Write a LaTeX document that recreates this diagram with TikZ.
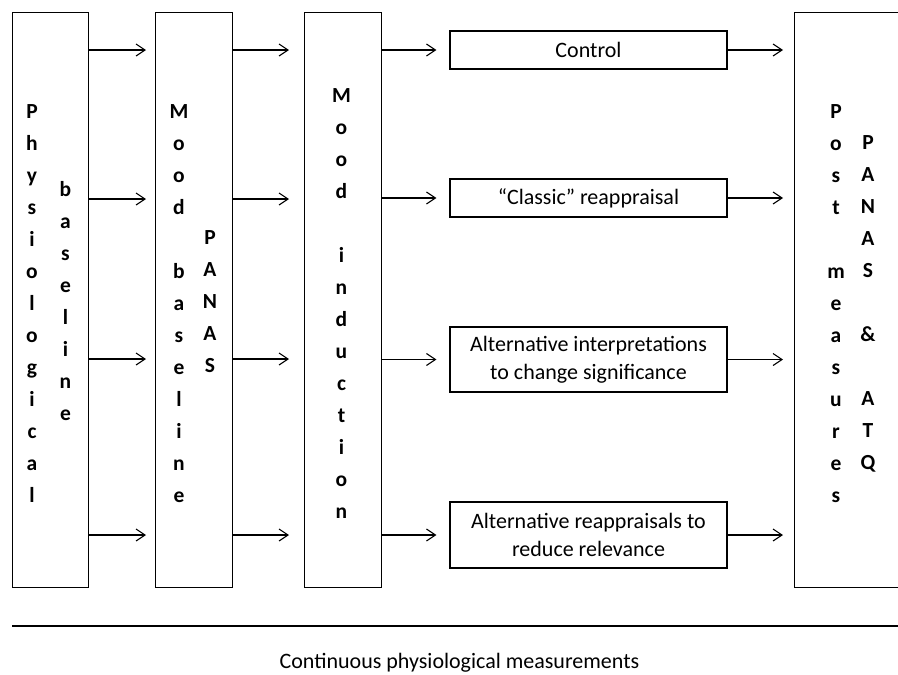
\documentclass[tikz,border=0pt]{standalone}
\usepackage{fontspec}
\setmainfont{Carlito}
\usetikzlibrary{arrows.meta}

\begin{document}
\begin{tikzpicture}[x=1pt, y=-1pt, line width=1.1pt,
  stage/.style={draw, line width=1.1pt, minimum height=575pt, inner sep=0pt, anchor=north west},
  vletters/.style={font=\bfseries\fontsize{21.5}{32}\selectfont, align=center, inner sep=0pt, anchor=north},
  option/.style={draw, line width=1.1pt, minimum width=277pt, inner sep=0pt,
                 font=\fontsize{22}{28}\selectfont, align=center},
  arr/.style={-{Straight Barb[length=9pt,width=12pt]}, line width=1.1pt}]
\useasboundingbox (0,0) rectangle (898,675);
\clip (0,0) rectangle (898,675);

% stage columns
\node[stage, minimum width=76pt]  (phys) at (12,12)  {};
\node[stage, minimum width=77pt]  (mood) at (155,12) {};
\node[stage, minimum width=77pt]  (ind)  at (304,12) {};
\node[stage, minimum width=150pt] (post) at (794,12) {};

% vertical lettering
\node[vletters] (physA) at (32,104.5)  {P\\h\\y\\s\\i\\o\\l\\o\\g\\i\\c\\a\\l};
\node[vletters] (physB) at (65.5,180.5) {b\\a\\s\\e\\l\\i\\n\\e};
\node[vletters] (moodA) at (179,104.5) {M\\o\\o\\d\\~\\b\\a\\s\\e\\l\\i\\n\\e};
\node[vletters] (moodB) at (210,230.5) {P\\A\\N\\A\\S};
\node[vletters] (indA)  at (341.5,88.5) {M\\o\\o\\d\\~\\i\\n\\d\\u\\c\\t\\i\\o\\n};
\node[vletters] (postA) at (836,104.5) {P\\o\\s\\t\\~\\m\\e\\a\\s\\u\\r\\e\\s};
\node[vletters] (postB) at (868,135.5) {P\\A\\N\\A\\S\\~\\\&\\~\\A\\T\\Q};

% regulation conditions
\node[option, minimum height=38pt] (ctrl) at (588.5,50)    {Control};
\node[option, minimum height=38pt] (clas) at (588.5,198)   {“Classic” reappraisal};
\node[option, minimum height=65pt] (alti) at (588.5,359.5) {Alternative interpretations\\to change significance};
\node[option, minimum height=66pt] (altr) at (588.5,535)   {Alternative reappraisals to\\reduce relevance};

% row levels
\coordinate (r1) at (0,50);
\coordinate (r2) at (0,199);
\coordinate (r3) at (0,359);
\coordinate (r4) at (0,535);

% arrows between stages
\foreach \r in {r1,r2,r3,r4}{
  \draw[arr, shorten >=9pt]  (phys.east |- \r) -- (mood.west |- \r);
  \draw[arr, shorten >=15pt] (mood.east |- \r) -- (ind.west |- \r);
}
\foreach \b in {ctrl,clas,alti,altr}{
  \draw[arr, shorten >=13pt] (ind.east |- \b.west) -- (\b.west);
  \draw[arr, shorten >=11pt] (\b.east) -- (post.west |- \b.east);
}

% continuous measurement band
\coordinate (bandL) at (12,626);
\coordinate (bandR) at (898,626);
\draw[line width=1.1pt] (bandL) -- (bandR);
\node[font=\fontsize{22}{26}\selectfont, inner sep=0pt] (cont) at (459.5,663) {Continuous physiological measurements};
\end{tikzpicture}
\end{document}
